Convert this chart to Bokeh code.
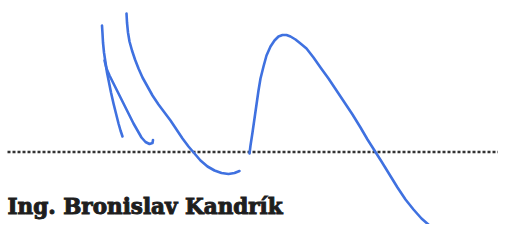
from bokeh.plotting import figure
from bokeh.models import Range1d
from bokeh.embed import file_html
from bokeh.resources import INLINE
from bokeh.core.properties import value

# Signature strokes (pixel coordinates)
stroke_a_x = [101.5, 102, 102.5, 103.5, 105, 106.5, 108.5, 110.5, 113, 115.5, 118, 120, 122]
stroke_a_y = [25, 33, 42, 52, 62, 72, 82, 92, 103, 113, 123, 130, 136]
stroke_b_x = [104, 106, 109, 113, 117, 121, 125, 129, 133, 137, 141, 145, 149, 152, 152.5]
stroke_b_y = [60, 68, 75, 83, 91, 99, 107, 115, 123, 130, 137, 141.5, 143.5, 142.5, 139.5]
stroke_c_x = [126, 126.5, 127.5, 129, 131.5, 134.5, 138, 142, 147, 152, 158, 164, 170, 176, 182,
              188, 194, 200, 207, 214, 221, 228, 234, 239]
stroke_c_y = [13, 22, 32, 41, 50, 59, 68, 77, 86, 95, 104, 112, 120, 129, 138,
              146, 153, 160, 166, 170, 172.5, 173.5, 172.5, 170.5]
stroke_d_x = [249, 250, 252, 254, 256, 258, 260, 263, 266, 270, 274, 278, 282, 286, 290, 295, 300,
              306, 313, 320, 328, 336, 344, 352, 360, 367, 374, 381, 389, 397, 405, 413, 421, 429,
              437, 445, 455, 465, 475]
stroke_d_y = [153, 145, 132, 118, 104, 90, 78, 66, 55, 46, 40, 36, 34.5, 34.5, 36, 39, 43,
              48, 57, 67, 78, 90, 102, 114, 127, 139, 150, 161, 174, 187, 199, 209, 218, 225,
              230, 234, 237, 239, 240]
dots_x = [7, 514]
dots_y = [151.5, 151.5]
name_label = "Ing. Bronislav Kandrík"

p = figure(width=498, height=224, output_backend="svg", toolbar_location=None,
           x_range=Range1d(0, 498), y_range=Range1d(224, 0), min_border=0)
p.axis.visible = False
p.grid.visible = False
p.outline_line_color = None
p.background_fill_color = "white"
p.border_fill_color = "white"

p.line(dots_x, dots_y, line_color="#333333", line_width=2.6, line_dash="3 2")

p.multi_line([stroke_a_x, stroke_b_x, stroke_c_x, stroke_d_x],
             [stroke_a_y, stroke_b_y, stroke_c_y, stroke_d_y],
             line_color="#3f71e0", line_width=2.6, line_cap="round", line_join="round")

p.text([7], [206], text=[name_label], text_font=value("DejaVu Serif"),
       text_font_style="bold", text_font_size="21.5px", text_color="#1e1e1e",
       text_outline_color="#1e1e1e",
       text_baseline="alphabetic", text_align="left")

open("out.html", "w").write(file_html(p, INLINE))
